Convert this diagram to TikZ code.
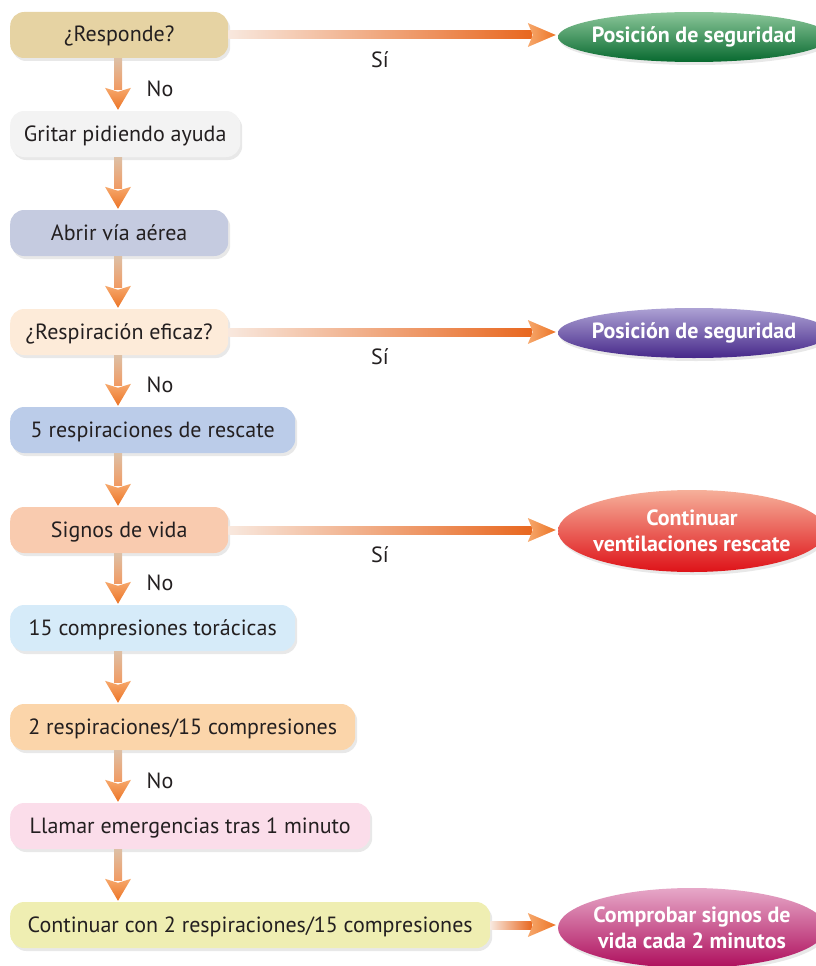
\documentclass[tikz,border=0pt]{standalone}
\usepackage{fontspec}
\setmainfont{PT Sans}
\usetikzlibrary{arrows.meta,calc,positioning,shapes.geometric,shadows}

\definecolor{tinta}{HTML}{231F20}
\definecolor{cTan}{HTML}{E6D3A3}
\definecolor{cGris}{HTML}{F3F3F3}
\definecolor{cAzulGris}{HTML}{C5CBE0}
\definecolor{cMelocoton}{HTML}{FDEBD9}
\definecolor{cAzul}{HTML}{BBCCE9}
\definecolor{cSalmon}{HTML}{F9CBAF}
\definecolor{cCeleste}{HTML}{D6EBF9}
\definecolor{cNaranja}{HTML}{FBD5AA}
\definecolor{cRosa}{HTML}{FBDDEA}
\definecolor{cAmarillo}{HTML}{EFEEB2}
\definecolor{ejeA}{HTML}{DDC0A6}
\definecolor{ejeB}{HTML}{F19A62}
\definecolor{ejeC}{HTML}{F8E8DE}
\definecolor{ejeD}{HTML}{E8671F}
\definecolor{puntaA}{HTML}{F6A86C}
\definecolor{puntaB}{HTML}{EC7426}
\definecolor{verdeA}{HTML}{8CC79A}
\definecolor{verdeB}{HTML}{07692F}
\definecolor{moradoA}{HTML}{ADA2D4}
\definecolor{moradoB}{HTML}{46288A}
\definecolor{rojoA}{HTML}{F6B09A}
\definecolor{rojoB}{HTML}{DE1218}
\definecolor{magentaA}{HTML}{E6A8C8}
\definecolor{magentaB}{HTML}{AE0E5C}

% flecha vertical entre dos cajas
\newcommand{\flechaV}[2]{%
  \shade[top color=ejeA, bottom color=ejeB] ($(#1.south west)+(104,0)$) rectangle ($(#2.north west)+(112,-21)$);
  \shade[top color=puntaA, bottom color=puntaB] ($(#2.north west)+(108,-1)$) -- ++(-13,-22) -- ++(13,4) -- ++(13,-4) -- cycle;}
% flecha horizontal hacia una elipse
\newcommand{\flechaH}[2]{%
  \shade[left color=ejeC, right color=ejeD] ($(#1.east)+(0,-4)$) rectangle ($(#1.east -| #2.west)+(-26,4)$);
  \shade[left color=puntaA, right color=puntaB] ($(#1.east -| #2.west)+(-2,0)$) -- ++(-28,-12) -- ++(5,12) -- ++(-5,12) -- cycle;}

\begin{document}
\begin{tikzpicture}[x=1pt,y=-1pt]
  \tikzset{
    caja/.style={rectangle, rounded corners=14pt, minimum height=46pt, anchor=west,
      text=tinta, font=\fontsize{22}{26}\selectfont, text height=17pt, text depth=3pt,
      drop shadow={opacity=0.18, shadow xshift=2pt, shadow yshift=-3pt}},
    elipse/.style={ellipse, inner sep=0pt,
      drop shadow={opacity=0.18, shadow xshift=2pt, shadow yshift=-3pt}},
    blanco/.style={text=white, align=center, font=\fontsize{22}{26}\selectfont\bfseries},
    etiq/.style={text=tinta, font=\fontsize{22}{26}\selectfont}
  }
  \useasboundingbox (0,0) rectangle (815,966);

  % cajas
  \node[caja, fill=cTan, minimum width=218pt] (resp) at (10,35) {¿Responde?};
  \node[caja, fill=cGris, minimum width=230pt] (grit) at (10,134) {Gritar pidiendo ayuda};
  \node[caja, fill=cAzulGris, minimum width=218pt] (abrir) at (10,233) {Abrir vía aérea};
  \node[caja, fill=cMelocoton, minimum width=218pt] (efic) at (10,332) {¿Respiración eficaz?};
  \node[caja, fill=cAzul, minimum width=285pt] (cinco) at (10,430) {5 respiraciones de rescate};
  \node[caja, fill=cSalmon, minimum width=218pt] (signos) at (10,530) {Signos de vida};
  \node[caja, fill=cCeleste, minimum width=285pt] (quince) at (10,628) {15 compresiones torácicas};
  \node[caja, fill=cNaranja, minimum width=345pt] (dos) at (10,727) {2 respiraciones/15 compresiones};
  \node[caja, fill=cRosa, minimum width=360pt] (llamar) at (10,826) {Llamar emergencias tras 1 minuto};
  \node[caja, fill=cAmarillo, minimum width=480pt] (cont) at (10,925) {Continuar con 2 respiraciones/15 compresiones};

  % elipses
  \node[elipse, top color=verdeA, bottom color=verdeB, minimum width=272pt, minimum height=50pt,
    label={[blanco]center:Posición de seguridad}] (pos1) at (694,37) {};
  \node[elipse, top color=moradoA, bottom color=moradoB, minimum width=272pt, minimum height=50pt,
    label={[blanco]center:Posición de seguridad}] (pos2) at (694,333) {};
  \node[elipse, top color=rojoA, bottom color=rojoB, minimum width=268pt, minimum height=82pt,
    label={[blanco]center:Continuar\\ventilaciones rescate}] (vent) at (692,531) {};
  \node[elipse, top color=magentaA, bottom color=magentaB, minimum width=268pt, minimum height=80pt,
    label={[blanco]center:Comprobar signos de\\vida cada 2 minutos}] (compr) at (692,928) {};

  % flechas
  \foreach \a/\b in {resp/grit, grit/abrir, abrir/efic, efic/cinco, cinco/signos,
                     signos/quince, quince/dos, dos/llamar, llamar/cont}
    \flechaV{\a}{\b};
  \foreach \a/\b in {resp/pos1, efic/pos2, signos/vent, cont/compr}
    \flechaH{\a}{\b};

  % etiquetas
  \foreach \a/\b in {resp/grit, efic/cinco, signos/quince, dos/llamar}
    \node[etiq] (no-\a) at ($(\a.south west)!0.5!(\b.north west)+(150,4)$) {No};
  \foreach \a/\b in {resp/pos1, efic/pos2, signos/vent}
    \node[etiq] (si-\a) at ($(\a.east)!0.46!(\a.east -| \b.west)+(0,25)$) {Sí};
\end{tikzpicture}
\end{document}
